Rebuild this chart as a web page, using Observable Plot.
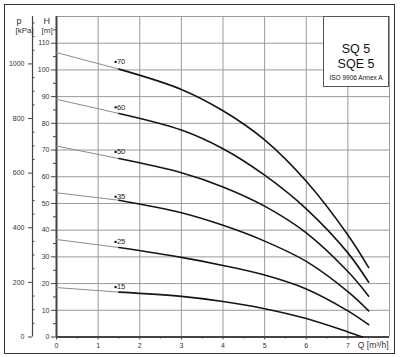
<!DOCTYPE html>
<html><head><meta charset="utf-8">
<script src="https://cdn.jsdelivr.net/npm/d3@7"></script>
<script src="https://cdn.jsdelivr.net/npm/@observablehq/plot@0.6"></script>
<style>
body{margin:0;background:#fff;font-family:"Liberation Sans",Arial,sans-serif;}
#wrap{position:relative;width:400px;height:357px;overflow:hidden}
#frame{position:absolute;left:4px;top:4px;width:389px;height:348px;border:1.5px solid #333;pointer-events:none}
#box{position:absolute;left:323px;top:16px;width:66px;height:71px;background:#fff;border:1px solid #555;box-sizing:border-box;color:#111}
#box div{position:absolute;left:0;width:100%;text-align:center;white-space:nowrap}
</style></head><body>
<div id="wrap"><div id="chart"></div>
<div id="box"><div style="top:25px;font-size:12.5px">SQ 5</div><div style="top:40px;font-size:12.5px">SQE 5</div><div style="top:57px;font-size:6.5px">ISO 9906 Annex A</div></div>
<div id="frame"></div></div>
<script>
// ---- data ----
const stageNames = ["70", "60", "50", "35", "25", "15"];
const flowQ   = [0, 1.5, 3, 4, 5, 6, 7, 7.5];
const flowQ15 = [0, 1.5, 3, 4, 5, 6, 7, 7.35];
const head70 = [106.5, 100.3, 92.7, 84.7, 73.8, 58.3, 38.2, 26];
const head60 = [89, 83.7, 77.5, 70.5, 60.6, 48, 31.5, 20.5];
const head50 = [71.5, 66.8, 61.5, 56.2, 49, 39, 24.5, 15.3];
const head35 = [54, 51.2, 46.5, 41.8, 35.9, 28.3, 17, 9.8];
const head25 = [36.5, 33.5, 29.8, 26.8, 23.2, 18, 9.8, 4.6];
const head15 = [18.5, 16.8, 15.2, 13.3, 10.6, 6.9, 1.9, 0];
const labelHead = [103, 86, 69.3, 52.5, 35.6, 18.7];
const labelFlow = 1.42;
const qTicks = [0, 1, 2, 3, 4, 5, 6, 7];
const hTicks = [0, 10, 20, 30, 40, 50, 60, 70, 80, 90, 100, 110];
const pTicks = [0, 200, 400, 600, 800, 1000];
const kPaPerMetre = 9.78;

const heads = [head70, head60, head50, head35, head25, head15];
const flows = [flowQ, flowQ, flowQ, flowQ, flowQ, flowQ15];
const blackRows = [], grayRows = [];
stageNames.forEach((name, c) => {
  heads[c].forEach((h, i) => {
    const row = {name, q: flows[c][i], h};
    if (i >= 1) blackRows.push(row);
    if (i <= 1) grayRows.push(row);
  });
});
const labels = stageNames.map((name, i) => ({name, q: labelFlow, h: labelHead[i]}));

const gridQ = d3.range(1, 9);
const gridH = d3.range(10, 130, 10);
const minorQ = d3.range(0.5, 8, 1);
const minorH = d3.range(5, 120, 10);
const pMinor = d3.range(50, 1200, 50).filter(p => p % 200 !== 0);
const pAxisDx = -24;
const blank = () => "";

const chart = Plot.plot({
  width: 400, height: 357,
  marginLeft: 56, marginRight: 11, marginTop: 16, marginBottom: 20.5,
  style: {fontFamily: "'Liberation Sans', Arial, sans-serif", fontSize: "7px", background: "transparent", color: "#333"},
  x: {domain: [0, 8]},
  y: {domain: [0, 120]},
  marks: [
    Plot.ruleX(gridQ, {stroke: "#9a9a9a", strokeWidth: 1}),
    Plot.ruleY(gridH, {stroke: "#9a9a9a", strokeWidth: 1}),
    // x axis
    Plot.axisX({ticks: qTicks, tickSize: 3, tickPadding: 3, label: null, stroke: "#444"}),
    Plot.axisX({ticks: minorQ, tickSize: 2, tickFormat: blank, label: null, stroke: "#444"}),
    // H axis
    Plot.axisY({ticks: hTicks, tickSize: 5, tickPadding: 2, label: null, stroke: "#444"}),
    Plot.axisY({ticks: minorH, tickSize: 3, tickFormat: blank, label: null, stroke: "#444"}),
    // p axis
    Plot.ruleX([0], {y1: 0, y2: 120, dx: pAxisDx, stroke: "#444", strokeWidth: 1.2}),
    Plot.axisY({ticks: pTicks.map(p => p / kPaPerMetre), tickFormat: d => String(Math.round(d * kPaPerMetre)), tickSize: 4, tickPadding: 4, dx: pAxisDx, label: null, stroke: "#444"}),
    Plot.axisY({ticks: pMinor.map(p => p / kPaPerMetre), tickFormat: blank, tickSize: -2.5, dx: pAxisDx, label: null, stroke: "#444"}),
    // frame lines
    Plot.ruleX([0], {stroke: "#444", strokeWidth: 2}),
    Plot.ruleY([0], {stroke: "#444", strokeWidth: 1.8}),
    // curves
    Plot.line(grayRows, {x: "q", y: "h", z: "name", stroke: "#8c8c8c", strokeWidth: 1}),
    Plot.line(blackRows, {x: "q", y: "h", z: "name", curve: "catmull-rom", stroke: "#151515", strokeWidth: 1.6}),
    Plot.dot(labels, {x: "q", y: "h", symbol: "square", r: 1.2, fill: "#111", stroke: null}),
    Plot.text(labels, {x: "q", y: "h", text: "name", textAnchor: "start", dx: 1.3, fill: "#222", fontSize: 7.5}),
    // axis titles
    Plot.text(["H"], {frameAnchor: "top-left", dx: -13, dy: 1, fontSize: 9, fill: "#333"}),
    Plot.text(["[m]"], {frameAnchor: "top-left", dx: -15, dy: 11, fontSize: 8, fill: "#333"}),
    Plot.text(["p"], {frameAnchor: "top-left", dx: -40, dy: 1, fontSize: 9, fill: "#333"}),
    Plot.text(["[kPa]"], {frameAnchor: "top-left", dx: -41, dy: 11, fontSize: 8, fill: "#333"}),
    Plot.text(["Q [m³/h]"], {frameAnchor: "bottom-right", textAnchor: "end", dx: -1, dy: 11, fontSize: 8.5, fill: "#333"})
  ]
});
document.getElementById("chart").appendChild(chart);
</script>
</body></html>
